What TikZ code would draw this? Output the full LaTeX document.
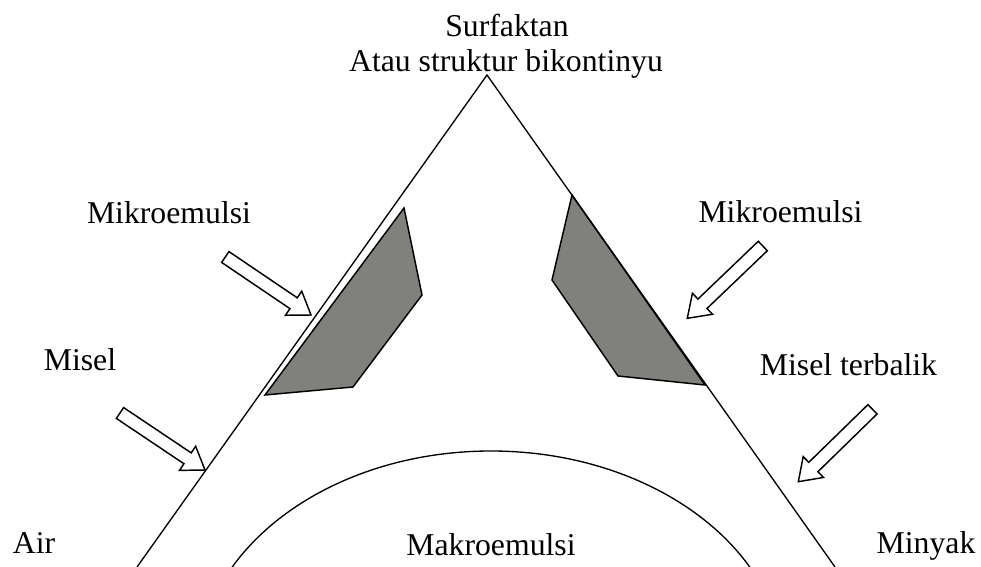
\documentclass[tikz,border=0pt]{standalone}
\usepackage{fontspec}
\setmainfont{Liberation Serif}
\usetikzlibrary{calc}
\definecolor{shade}{RGB}{128,128,124}
\tikzset{
  lbl/.style={anchor=base, inner sep=0pt, font=\fontsize{23.8pt}{28pt}\selectfont},
  sideline/.style={draw=black, line width=1pt},
  blob/.style={draw=black, fill=shade, line width=1.1pt, line join=miter},
  blockarr/.style={draw=black, fill=white, line width=1.1pt, line join=miter},
}
\newcommand\blockarrow[2]{%
  \draw[blockarr]
    ($(#1)!4.9pt!90:(#2)$) --
    ($(#2)!15.75pt!(#1)!4.9pt!-90:(#1)$) --
    ($(#2)!15.75pt!(#1)!10.9pt!-90:(#1)$) --
    (#2) --
    ($(#2)!15.75pt!(#1)!10.9pt!90:(#1)$) --
    ($(#2)!15.75pt!(#1)!4.9pt!90:(#1)$) --
    ($(#1)!4.9pt!-90:(#2)$) -- cycle;}
\begin{document}
\begin{tikzpicture}[x=0.75pt, y=-0.75pt]
  \useasboundingbox (0,0) rectangle (981,567);
  \fill[white] (0,0) rectangle (981,567);
  \clip (0,0) rectangle (981,567);

  % triangle sides
  \coordinate (apex) at (487,75);
  \coordinate (bl) at (137,567);
  \coordinate (br) at (835,567);

  % makroemulsi arc
  \draw[line width=1pt] (491,672) ellipse [x radius=220.5pt, y radius=165.75pt];

  % grey regions
  \draw[blob] (404,208) -- (422,295) -- (353,387) -- (265,395) -- cycle;
  \draw[blob] (572,195) -- (552,280) -- (618,376) -- (705,385) -- cycle;

  \draw[sideline] (bl) -- (apex) -- (br);

  % block arrows
  \coordinate (misLt) at (120,413);   \coordinate (misLh) at (205,470);
  \coordinate (mikLt) at (225.3,257); \coordinate (mikLh) at (311,315);
  \coordinate (mikRt) at (762.8,246); \coordinate (mikRh) at (687.3,318.3);
  \coordinate (misRt) at (872.5,409.3); \coordinate (misRh) at (798.3,481.7);
  \blockarrow{misLt}{misLh}
  \blockarrow{mikLt}{mikLh}
  \blockarrow{mikRt}{mikRh}
  \blockarrow{misRt}{misRh}

  % labels
  \node[lbl] (surf) at (507,37) {Surfaktan};
  \node[lbl] (bikon) at (506,72) {Atau struktur bikontinyu};
  \node[lbl] (mikL) at (169,223) {Mikroemulsi};
  \node[lbl] (mikR) at (780.5,222) {Mikroemulsi};
  \node[lbl] (misL) at (80,370) {Misel};
  \node[lbl] (misR) at (848.5,375) {Misel terbalik};
  \node[lbl] (air) at (34,553) {Air};
  \node[lbl] (makro) at (491,555) {Makroemulsi};
  \node[lbl] (minyak) at (926,553) {Minyak};
\end{tikzpicture}
\end{document}
